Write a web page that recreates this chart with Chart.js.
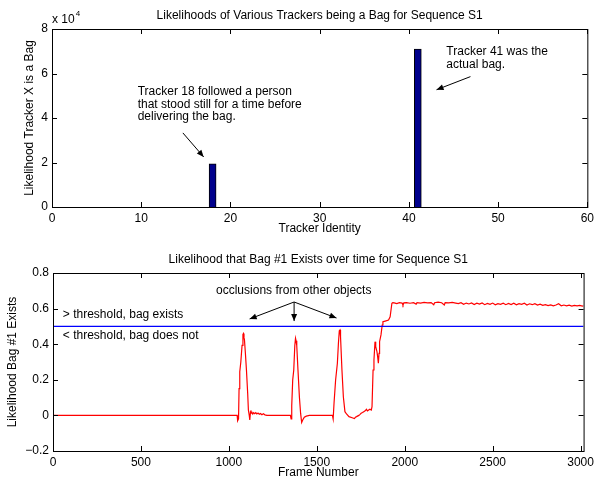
<!DOCTYPE html>
<html>
<head>
<meta charset="utf-8">
<script src="https://cdn.jsdelivr.net/npm/chart.js@4.4.0/dist/chart.umd.min.js"></script>
<style>
html, body { margin: 0; padding: 0; background: #fff; }
#wrap { position: relative; width: 598px; height: 479px; }
#top-chart { position: absolute; left: 0; top: 0; }
#bottom-chart { position: absolute; left: 0; top: 240px; }
</style>
</head>
<body>
<div id="wrap">
<canvas id="top-chart" width="598" height="240"></canvas>
<canvas id="bottom-chart" width="598" height="239"></canvas>
</div>
<script>
// top plot: likelihood per tracker
const trackerIds = [18, 41];
const trackerLikelihood = [19400, 71000];
const trackerTicks = [0, 10, 20, 30, 40, 50, 60];
const likelihoodTicks = [0, 20000, 40000, 60000, 80000];

// bottom plot: likelihood of bag #1 over frames
const frames = [
  0, 1047, 1050, 1055, 1058, 1062, 1068, 1075, 1080, 1083, 1086, 1089, 1094, 1100, 1107, 1111,
  1116, 1119, 1123, 1127, 1131, 1136, 1141, 1147, 1153, 1159, 1166, 1173, 1180, 1188, 1196, 1205,
  1216, 1350, 1354, 1356, 1359, 1363, 1369, 1375, 1379, 1382, 1386, 1393, 1401, 1408, 1414, 1420,
  1429, 1440, 1458, 1589, 1593, 1598, 1607, 1617, 1623, 1628, 1632, 1635, 1643, 1651, 1660, 1669,
  1683, 1701, 1714, 1720, 1726, 1739, 1746, 1752, 1760, 1767, 1775, 1782, 1788, 1795, 1802, 1810,
  1814, 1820, 1825, 1831, 1835, 1842, 1846, 1850, 1854, 1857, 1865, 1872, 1876, 1889, 1908, 1917,
  1927, 1932, 1940, 1955, 1970, 1985, 1990, 1995, 2010, 2030, 2050, 2065, 2070, 2090, 2110, 2130,
  2150, 2165, 2170, 2190, 2210, 2225, 2230, 2250, 2270, 2290, 2305, 2320, 2335, 2350, 2365, 2380,
  2395, 2410, 2425, 2440, 2455, 2470, 2485, 2500, 2515, 2530, 2545, 2560, 2575, 2590, 2605, 2620,
  2635, 2650, 2665, 2680, 2695, 2710, 2725, 2740, 2755, 2770, 2785, 2800, 2815, 2830, 2845, 2860,
  2875, 2890, 2905, 2920, 2935, 2950, 2965, 2980, 2995, 3010, 3017
];
const bagLikelihood = [
  0, 0, -0.03, -0.02, 0.15, 0.245, 0.3, 0.393, 0.455, 0.46, 0.44, 0.42, 0.349, 0.255, 0.124, 0.03,
  0.0, -0.026, 0.02, 0.012, 0.018, 0.008, 0.015, 0.01, 0.016, 0.008, 0.013, 0.006, 0.011, 0.004, 0.009, 0.003,
  0, 0, -0.02, -0.015, 0.055, 0.199, 0.255, 0.393, 0.433, 0.42, 0.393, 0.255, 0.105, 0.011, -0.04, -0.026,
  -0.01, -0.004, 0, 0, -0.02, 0.068, 0.199, 0.293, 0.405, 0.476, 0.48, 0.442, 0.255, 0.105, 0.021, 0.008,
  -0.007, -0.013, -0.018, -0.01, -0.007, 0.0, 0.006, 0.012, 0.016, 0.021, 0.026, 0.034, 0.025, 0.03, 0.035, 0.03,
  0.049, 0.255, 0.311, 0.414, 0.386, 0.358, 0.33, 0.293, 0.349, 0.414, 0.452, 0.508, 0.526, 0.53, 0.536, 0.554,
  0.63, 0.633, 0.632, 0.628, 0.633, 0.631, 0.62, 0.632, 0.634, 0.63, 0.633, 0.625, 0.634, 0.631, 0.635, 0.632,
  0.634, 0.622, 0.633, 0.636, 0.633, 0.62, 0.634, 0.632, 0.635, 0.631, 0.628, 0.633, 0.624, 0.631, 0.626, 0.632,
  0.623, 0.63, 0.625, 0.632, 0.622, 0.629, 0.624, 0.631, 0.621, 0.628, 0.624, 0.63, 0.622, 0.629, 0.623, 0.63,
  0.621, 0.628, 0.624, 0.63, 0.62, 0.627, 0.622, 0.628, 0.62, 0.625, 0.618, 0.622, 0.617, 0.621, 0.616, 0.62,
  0.627, 0.616, 0.62, 0.615, 0.619, 0.614, 0.618, 0.615, 0.618, 0.614, 0.616
];
const threshold = 0.5;
const frameMax = 3017;
const frameTicks = [0, 500, 1000, 1500, 2000, 2500, 3000];
const existTicks = [-0.2, 0, 0.2, 0.4, 0.6, 0.8];

const FONT = '"Liberation Sans", Arial, sans-serif';
const tickFont = { family: FONT, size: 12 };

function arrow(ctx, x1, y1, x2, y2) {
  ctx.beginPath();
  ctx.moveTo(x1, y1);
  ctx.lineTo(x2, y2);
  ctx.stroke();
  const ang = Math.atan2(y2 - y1, x2 - x1), L = 7, W = 3;
  ctx.beginPath();
  ctx.moveTo(x2, y2);
  ctx.lineTo(x2 - L * Math.cos(ang) + W * Math.sin(ang), y2 - L * Math.sin(ang) - W * Math.cos(ang));
  ctx.lineTo(x2 - L * Math.cos(ang) - W * Math.sin(ang), y2 - L * Math.sin(ang) + W * Math.cos(ang));
  ctx.closePath();
  ctx.fill();
}

// box, inward ticks, titles and notes (notes / arrows given in data units)
function matlabLook(cfg) {
  return {
    id: 'matlabLook',
    afterDraw(chart) {
      const ctx = chart.ctx, a = chart.chartArea;
      const x = chart.scales.x, y = chart.scales.y;
      ctx.save();
      ctx.strokeStyle = '#000';
      ctx.fillStyle = '#000';
      ctx.lineWidth = 1;
      ctx.strokeRect(a.left + 0.5, a.top + 0.5, a.right - a.left, a.bottom - a.top);
      ctx.beginPath();
      for (const t of x.ticks) {
        const px = Math.round(x.getPixelForValue(t.value)) + 0.5;
        ctx.moveTo(px, a.bottom); ctx.lineTo(px, a.bottom - 5);
        ctx.moveTo(px, a.top); ctx.lineTo(px, a.top + 5);
      }
      for (const t of y.ticks) {
        const py = Math.round(y.getPixelForValue(t.value)) + 0.5;
        ctx.moveTo(a.left, py); ctx.lineTo(a.left + 5, py);
        ctx.moveTo(a.right, py); ctx.lineTo(a.right - 5, py);
      }
      ctx.stroke();

      ctx.font = '12px ' + FONT;
      ctx.textBaseline = 'middle';
      const cx = (a.left + a.right) / 2;
      ctx.textAlign = 'center';
      ctx.fillText(cfg.title, cx, a.top - cfg.titleGap);
      ctx.fillText(cfg.xTitle, cx, a.bottom + cfg.xTitleGap);
      ctx.save();
      ctx.translate(cfg.yTitleX, (a.top + a.bottom) / 2);
      ctx.rotate(-Math.PI / 2);
      ctx.fillText(cfg.yTitle, 0, 0);
      ctx.restore();

      ctx.textAlign = 'left';
      for (const n of cfg.notes) {
        const px = x.getPixelForValue(n.x);
        n.lines.forEach((line, i) => {
          ctx.fillText(line, px, y.getPixelForValue(n.y) + i * 12.5);
        });
      }
      for (const ar of cfg.arrows) {
        arrow(ctx, x.getPixelForValue(ar[0]), y.getPixelForValue(ar[1]),
                   x.getPixelForValue(ar[2]), y.getPixelForValue(ar[3]));
      }
      if (cfg.extra) cfg.extra(ctx, a);
      ctx.restore();
    }
  };
}

function fixedTicks(list) {
  return s => { s.ticks = list.map(v => ({ value: v })); };
}

new Chart(document.getElementById('top-chart'), {
  type: 'bar',
  data: {
    datasets: [{
      data: trackerIds.map((id, i) => ({ x: id, y: trackerLikelihood[i] })),
      backgroundColor: '#00008c',
      borderColor: '#000',
      borderWidth: 1,
      barThickness: 7
    }]
  },
  options: {
    responsive: false,
    animation: false,
    layout: { padding: { top: 29, right: 10, left: 0, bottom: 0 } },
    plugins: { legend: { display: false }, tooltip: { enabled: false } },
    scales: {
      x: {
        type: 'linear', min: 0, max: 60, offset: false,
        grid: { display: false, drawTicks: false }, border: { display: false },
        afterBuildTicks: fixedTicks(trackerTicks),
        afterFit: s => { s.height = 33; },
        ticks: { padding: 4, font: tickFont, color: '#000', maxRotation: 0, callback: v => String(v) }
      },
      y: {
        min: 0, max: 80000,
        grid: { display: false, drawTicks: false }, border: { display: false },
        afterBuildTicks: fixedTicks(likelihoodTicks),
        afterFit: s => { s.width = 52; },
        ticks: { padding: 4, font: tickFont, color: '#000', callback: v => String(v / 10000) }
      }
    }
  },
  plugins: [matlabLook({
    title: 'Likelihoods of Various Trackers being a Bag for Sequence S1',
    titleGap: 13,
    xTitle: 'Tracker Identity',
    xTitleGap: 22,
    yTitle: 'Likelihood Tracker X is a Bag',
    yTitleX: 30,
    notes: [
      { x: 9.6, y: 51800, lines: ['Tracker 18 followed a person', 'that stood still for a time before', 'delivering the bag.'] },
      { x: 44.2, y: 69800, lines: ['Tracker 41 was the', 'actual bag.'] }
    ],
    arrows: [
      [14.67, 33300, 17.0, 22500],
      [46.9, 58600, 43.1, 52700]
    ],
    extra: (ctx, a) => {
      ctx.textAlign = 'left';
      const w = ctx.measureText('x 10').width;
      ctx.fillText('x 10', a.left, a.top - 9);
      ctx.font = '8px ' + FONT;
      ctx.fillText('4', a.left + w + 1, a.top - 15);
    }
  })]
});

new Chart(document.getElementById('bottom-chart'), {
  type: 'scatter',
  data: {
    datasets: [{
      data: frames.map((f, i) => ({ x: f, y: bagLikelihood[i] })),
      showLine: true,
      borderColor: '#ff0000',
      borderWidth: 1.2,
      pointRadius: 0,
      order: 1
    }, {
      data: [{ x: 0, y: threshold }, { x: frameMax, y: threshold }],
      showLine: true,
      borderColor: '#0000ff',
      borderWidth: 1.2,
      pointRadius: 0,
      order: 0
    }]
  },
  options: {
    responsive: false,
    animation: false,
    layout: { padding: { top: 33, right: 11, left: 0, bottom: 0 } },
    plugins: { legend: { display: false }, tooltip: { enabled: false } },
    scales: {
      x: {
        type: 'linear', min: 0, max: frameMax,
        grid: { display: false, drawTicks: false }, border: { display: false },
        afterBuildTicks: fixedTicks(frameTicks),
        afterFit: s => { s.height = 28; },
        ticks: { padding: 4, font: tickFont, color: '#000', maxRotation: 0, callback: v => String(v) }
      },
      y: {
        min: -0.2, max: 0.8,
        grid: { display: false, drawTicks: false }, border: { display: false },
        afterBuildTicks: fixedTicks(existTicks),
        afterFit: s => { s.width = 53; },
        ticks: {
          padding: 4, font: tickFont, color: '#000',
          callback: v => (Math.round(v * 10) / 10).toString().replace('-', '\u2212')
        }
      }
    }
  },
  plugins: [matlabLook({
    title: 'Likelihood that Bag #1 Exists over time for Sequence S1',
    titleGap: 13,
    xTitle: 'Frame Number',
    xTitleGap: 22,
    yTitle: 'Likelihood Bag #1 Exists',
    yTitleX: 13,
    notes: [
      { x: 927, y: 0.699, lines: ['occlusions from other objects'] },
      { x: 56, y: 0.564, lines: ['> threshold, bag exists'] },
      { x: 56, y: 0.446, lines: ['< threshold, bag does not'] }
    ],
    arrows: [
      [1371, 0.637, 1118, 0.542],
      [1371, 0.637, 1371, 0.53],
      [1371, 0.637, 1612, 0.547]
    ]
  })]
});
</script>
</body>
</html>
